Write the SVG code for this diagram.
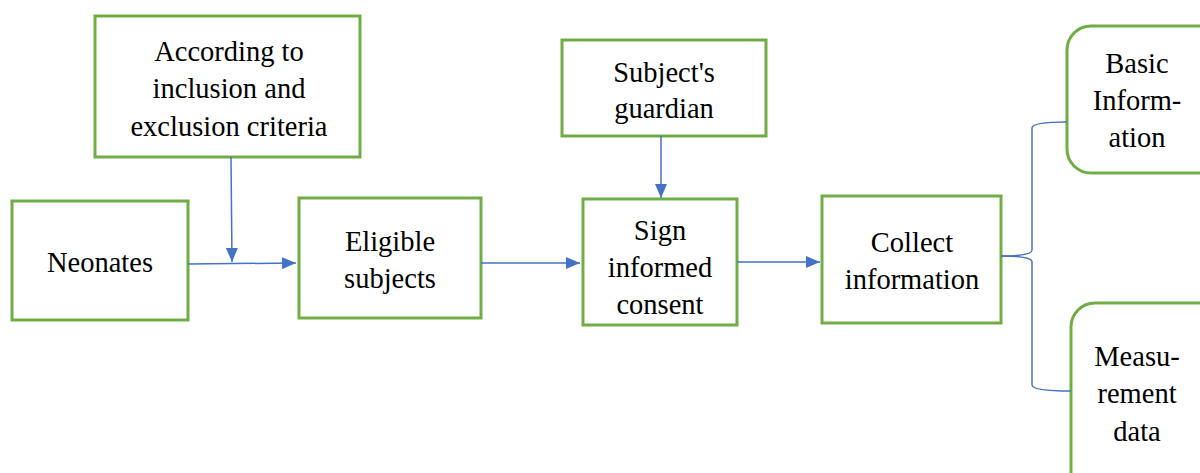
<svg xmlns="http://www.w3.org/2000/svg" width="1200" height="473" viewBox="0 0 1200 473">
<defs>
<style>
.box{fill:#fff;stroke:#70ad47;stroke-width:3}
.t{font-size:28.5px;fill:#000;text-anchor:middle}
.c{stroke:#4472c4;stroke-width:1.5;fill:none}
</style>
<marker id="ah2" viewBox="0 0 14 12" refX="14" refY="6" markerWidth="14" markerHeight="12" markerUnits="userSpaceOnUse" orient="auto">
<path d="M0,0 L14,6 L0,12 z" fill="#4472c4"/>
</marker>
</defs>
<rect width="1200" height="473" fill="#fff"/>
<g font-family="Liberation Serif, Times New Roman, serif">
<g id="neonates"><rect class="box" x="12" y="201" width="176" height="119"/><text class="t" x="100" y="272">Neonates</text></g>
<g id="criteria"><rect class="box" x="95" y="16" width="265" height="141"/><text class="t" x="229" y="61">According to</text><text class="t" x="229" y="98">inclusion and</text><text class="t" x="229" y="136">exclusion criteria</text></g>
<g id="eligible"><rect class="box" x="299" y="198" width="182" height="120"/><text class="t" x="390" y="251">Eligible</text><text class="t" x="390" y="288">subjects</text></g>
<g id="guardian"><rect class="box" x="562" y="40" width="204" height="96"/><text class="t" x="664" y="82">Subject's</text><text class="t" x="664" y="118">guardian</text></g>
<g id="consent"><rect class="box" x="583" y="199" width="154" height="126"/><text class="t" x="660" y="240">Sign</text><text class="t" x="660" y="277">informed</text><text class="t" x="660" y="314">consent</text></g>
<g id="collect"><rect class="box" x="822" y="196" width="179" height="127"/><text class="t" x="912" y="252">Collect</text><text class="t" x="912" y="289">information</text></g>
<g id="basic"><rect class="box" x="1067" y="26" width="160" height="147" rx="24"/><text class="t" x="1137" y="73">Basic</text><text class="t" x="1137" y="110">Inform-</text><text class="t" x="1137" y="147">ation</text></g>
<g id="measurement"><rect class="box" x="1071" y="303" width="160" height="200" rx="24"/><text class="t" x="1137" y="366">Measu-</text><text class="t" x="1137" y="403">rement</text><text class="t" x="1137" y="441">data</text></g>
</g>
<g id="connectors">
<path class="c" d="M188,264 L296,263" marker-end="url(#ah2)"/>
<path class="c" d="M231,157 L232,262" marker-end="url(#ah2)"/>
<path class="c" d="M481,263 L580,263" marker-end="url(#ah2)"/>
<path class="c" d="M737,262 L820,262" marker-end="url(#ah2)"/>
<path class="c" d="M661,136 L661,198" marker-end="url(#ah2)"/>
<path class="c" d="M1001,256 Q1032,256 1032,250 L1032,128 Q1032,122 1067,122"/>
<path class="c" d="M1001,256 Q1032,256 1032,262 L1032,385 Q1032,391 1071,391"/>
</g>
</svg>
